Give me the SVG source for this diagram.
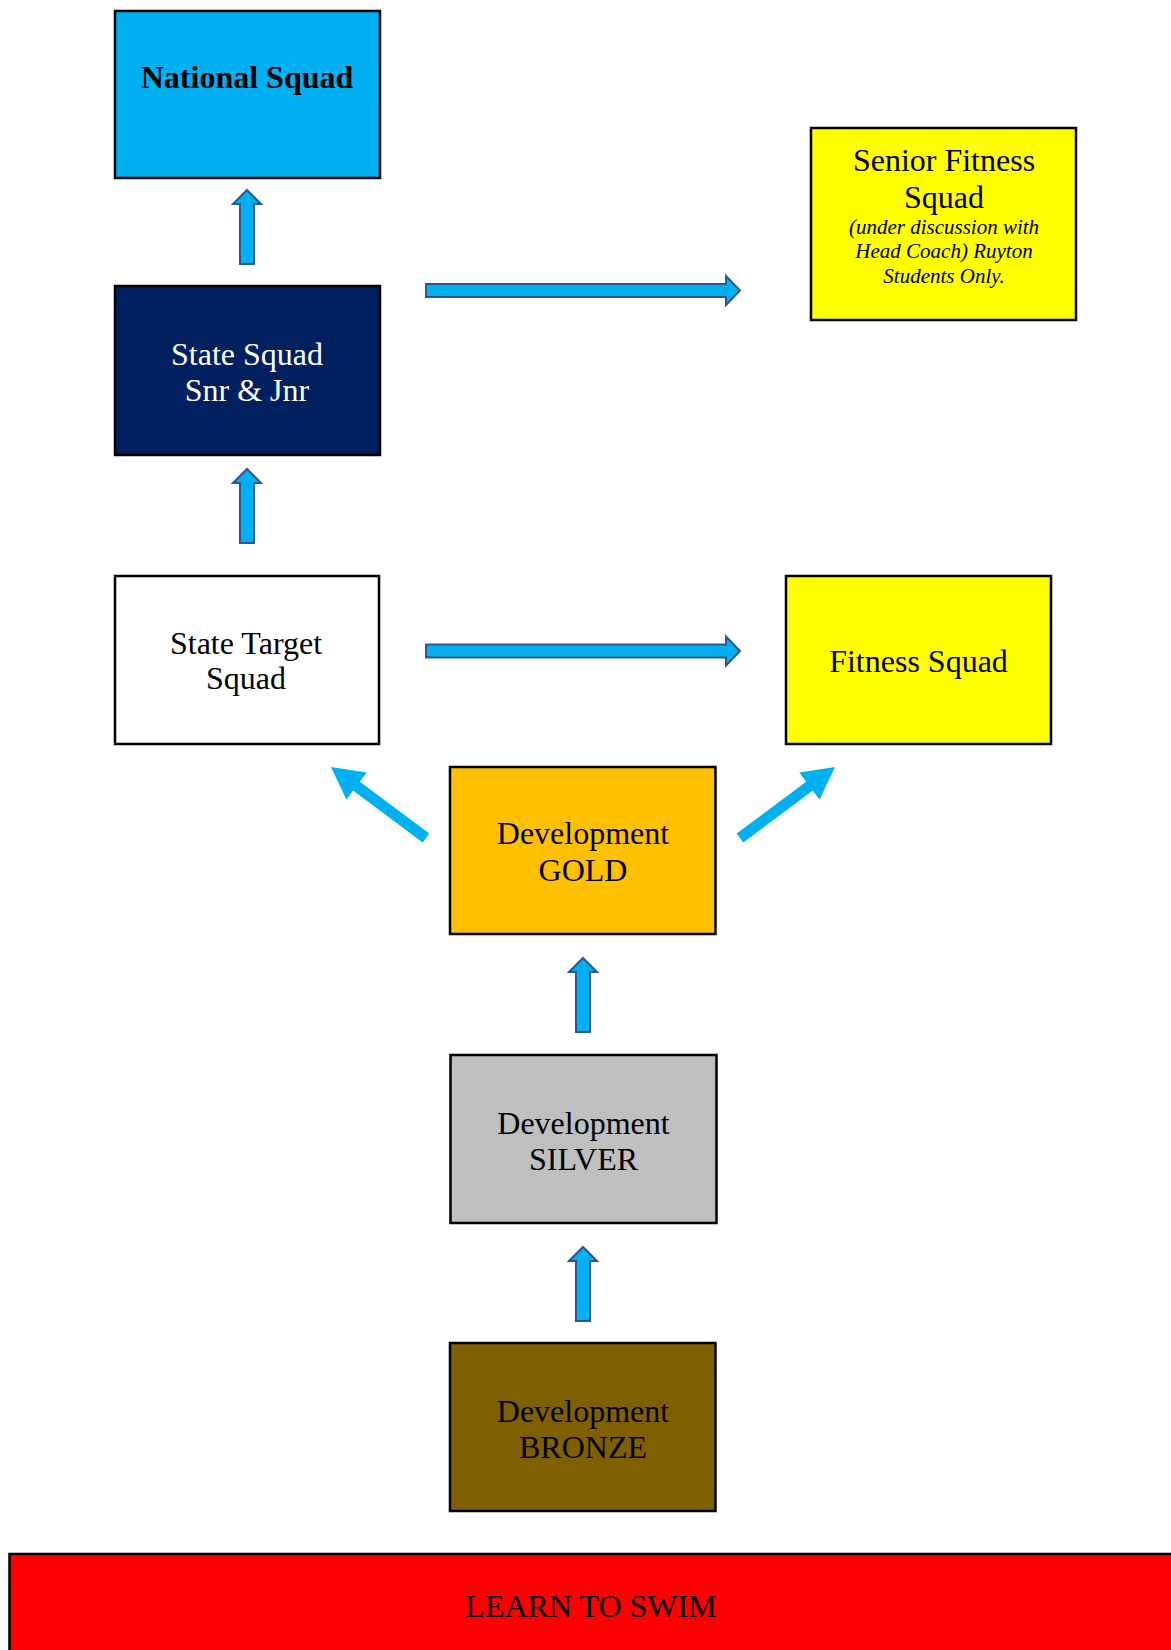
<svg xmlns="http://www.w3.org/2000/svg" xmlns:xlink="http://www.w3.org/1999/xlink" width="1171" height="1650" viewBox="0 0 1171 1650">
<style>
.box{stroke:#000;stroke-width:2.5}
.t{font-family:"Liberation Serif","Times New Roman",serif;font-size:32px;fill:#000;text-anchor:middle}
.b{font-weight:bold}
.w{fill:#fff}
.it{font-size:21px;font-style:italic}
.blk{fill:#00B0F0;stroke:#2F5597;stroke-width:2;stroke-linejoin:miter}
.diag{stroke:#00B0F0;stroke-width:11;fill:none}
</style>
<defs>
<path id="up" d="M0,0 L14,14 L7,14 L7,74 L-7,74 L-7,14 L-14,14 Z"/>
<marker id="ah" markerUnits="userSpaceOnUse" viewBox="0 0 32 34" markerWidth="32" markerHeight="34" refX="2" refY="17" orient="auto">
<path d="M0,0 L32,17 L0,34 Z" fill="#00B0F0"/>
</marker>
</defs>
<rect width="1171" height="1650" fill="#fff"/>
<g id="national"><rect class="box" x="115" y="11" width="265" height="167" fill="#00B0F0"/><text class="t b" x="247" y="88">National Squad</text></g>
<g id="senior-fitness"><rect class="box" x="811" y="128" width="265" height="192" fill="#FFFF00"/><text class="t" x="944" y="171">Senior Fitness</text><text class="t" x="944" y="207.5">Squad</text><text class="t it" x="944" y="234">(under discussion with</text><text class="t it" x="944" y="258">Head Coach) Ruyton</text><text class="t it" x="944" y="283">Students Only.</text></g>
<g id="state"><rect class="box" x="115" y="286" width="265" height="169" fill="#002060"/><text class="t w" x="247" y="365">State Squad</text><text class="t w" x="247" y="401">Snr &amp; Jnr</text></g>
<g id="state-target"><rect class="box" x="115" y="576" width="264" height="168" fill="#fff"/><text class="t" x="246" y="654">State Target</text><text class="t" x="246" y="689">Squad</text></g>
<g id="fitness"><rect class="box" x="786" y="576" width="265" height="168" fill="#FFFF00"/><text class="t" x="918.5" y="672">Fitness Squad</text></g>
<g id="gold"><rect class="box" x="450" y="767" width="265.5" height="167" fill="#FFC000"/><text class="t" x="583" y="844">Development</text><text class="t" x="583" y="881">GOLD</text></g>
<g id="silver"><rect class="box" x="450.5" y="1055" width="266" height="168" fill="#BFBFBF"/><text class="t" x="583.5" y="1133.5">Development</text><text class="t" x="583.5" y="1169.5">SILVER</text></g>
<g id="bronze"><rect class="box" x="450" y="1343" width="265.5" height="168" fill="#7F6000"/><text class="t" x="583" y="1422">Development</text><text class="t" x="583" y="1457.5">BRONZE</text></g>
<g id="learn"><rect class="box" x="9.5" y="1554" width="1200" height="150" fill="#FF0000"/><text class="t" x="591" y="1616.5">LEARN TO SWIM</text></g>
<g id="connectors">
<use xlink:href="#up" href="#up" class="blk" x="247" y="190"/>
<use xlink:href="#up" href="#up" class="blk" x="247" y="469"/>
<use xlink:href="#up" href="#up" class="blk" x="583" y="958"/>
<use xlink:href="#up" href="#up" class="blk" x="583" y="1247"/>
<path class="blk" d="M426,284 H726 V276 L740,290.5 L726,305 V297 H426 Z"/>
<path class="blk" d="M426,644.5 H726 V636.5 L740,651 L726,665.5 V657.5 H426 Z"/>
<line class="diag" x1="426" y1="838" x2="355" y2="785" marker-end="url(#ah)"/>
<line class="diag" x1="740" y1="838" x2="811" y2="785" marker-end="url(#ah)"/>
</g>
</svg>
